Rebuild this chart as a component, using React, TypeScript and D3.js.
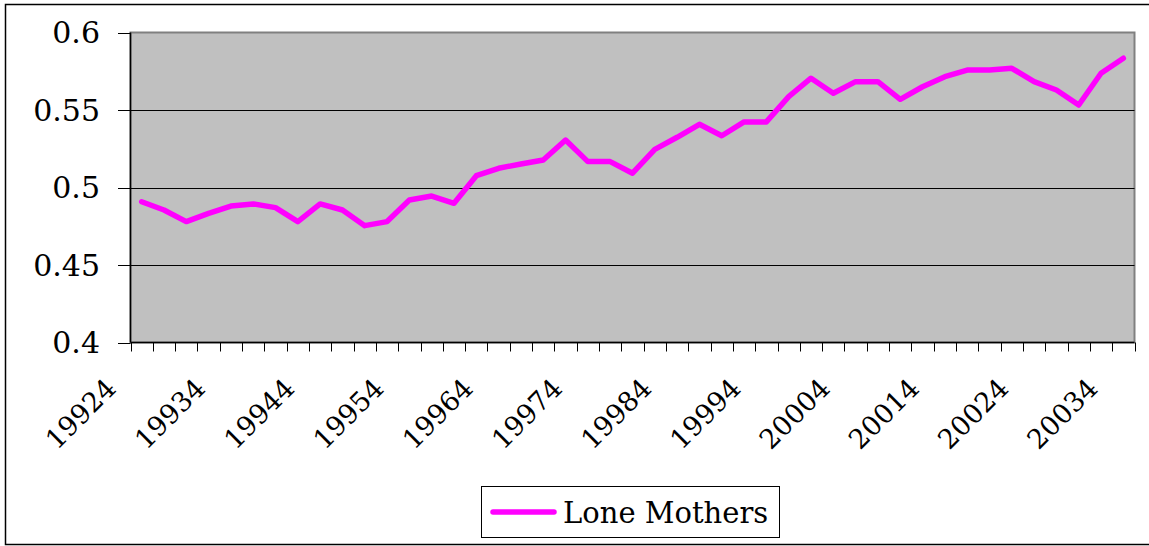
import React from "react";
import * as d3 from "d3";

const categories: string[] = [
  "19924","19931","19932","19933","19934","19941","19942","19943","19944",
  "19951","19952","19953","19954","19961","19962","19963","19964",
  "19971","19972","19973","19974","19981","19982","19983","19984",
  "19991","19992","19993","19994","20001","20002","20003","20004",
  "20011","20012","20013","20014","20021","20022","20023","20024",
  "20031","20032","20033","20034",
];

const loneMothers: number[] = [
  0.4908, 0.4855, 0.478, 0.4833, 0.488, 0.4894, 0.487, 0.478, 0.4894,
  0.4855, 0.4754, 0.478, 0.4919, 0.4945, 0.4898, 0.5076, 0.5124,
  0.5152, 0.5177, 0.5306, 0.5167, 0.5167, 0.5092, 0.5246, 0.5324,
  0.5408, 0.5334, 0.5423, 0.5423, 0.5586, 0.5705, 0.5608, 0.5683,
  0.5683, 0.5569, 0.565, 0.5715, 0.5758, 0.5758, 0.5769, 0.5683,
  0.5629, 0.5532, 0.5737, 0.5834,
];

const yTicks: number[] = [0.4, 0.45, 0.5, 0.55, 0.6];
const yTickLabels: string[] = ["0.4", "0.45", "0.5", "0.55", "0.6"];
const labelEvery = 4;
const seriesName = "Lone Mothers";

const W = 1149;
const H = 546;
const plot = { left: 130.5, right: 1134.5, top: 32.5, bottom: 342.5 };
const FONT = "'DejaVu Serif', serif";
const textStyle = { fontFamily: FONT };

export default function App() {
  const x = d3
    .scaleBand<string>()
    .domain(categories)
    .range([plot.left, plot.right])
    .paddingInner(0)
    .paddingOuter(0);
  const y = d3.scaleLinear().domain([0.4, 0.6]).range([plot.bottom, plot.top]);
  const cx = (c: string) => (x(c) as number) + x.bandwidth() / 2;

  const line = d3
    .line<number>()
    .x((_, i) => cx(categories[i]))
    .y((d) => y(d));

  const tickXs = categories.map((c) => x(c) as number).concat([plot.right]);

  return (
    <svg
      width={W}
      height={H}
      style={{ position: "absolute", left: 0, top: 0, background: "#fff" }}
    >
      <rect x={5.5} y={4.5} width={1160} height={540} fill="#fff" stroke="#000" strokeWidth={1.5} />
      <rect
        x={plot.left}
        y={plot.top}
        width={plot.right - plot.left}
        height={plot.bottom - plot.top}
        fill="#C0C0C0"
        stroke="#808080"
        strokeWidth={2}
      />
      {yTicks.slice(1, -1).map((t) => (
        <line
          key={"g" + t}
          x1={plot.left}
          x2={plot.right}
          y1={Math.round(y(t)) + 0.5}
          y2={Math.round(y(t)) + 0.5}
          stroke="#000"
          strokeWidth={1}
        />
      ))}
      <line x1={plot.left} x2={plot.left} y1={plot.top} y2={plot.bottom} stroke="#000" strokeWidth={1.5} />
      <line x1={plot.left} x2={plot.right} y1={plot.bottom} y2={plot.bottom} stroke="#000" strokeWidth={1.5} />
      {yTicks.map((t, i) => (
        <g key={"yt" + t}>
          <line x1={118} x2={plot.left} y1={Math.round(y(t)) + 0.5} y2={Math.round(y(t)) + 0.5} stroke="#000" />
          <text
            x={100}
            y={y(t)}
            dy="0.35em"
            textAnchor="end"
            fontSize={30}
            fill="#000"
            style={textStyle}
          >
            {yTickLabels[i]}
          </text>
        </g>
      ))}
      {tickXs.map((tx, i) => (
        <line
          key={"xt" + i}
          x1={Math.round(tx) + 0.5}
          x2={Math.round(tx) + 0.5}
          y1={plot.bottom}
          y2={plot.bottom + 9}
          stroke="#000"
        />
      ))}
      {categories.map((c, i) =>
        i % labelEvery === 0 ? (
          <text
            key={"xl" + c}
            transform={`translate(${cx(c) - 24},${390}) rotate(-45)`}
            textAnchor="end"
            fontSize={27}
            fill="#000"
            style={textStyle}
          >
            {c}
          </text>
        ) : null
      )}
      <path
        d={line(loneMothers) || ""}
        fill="none"
        stroke="#FF00FF"
        strokeWidth={5.5}
        strokeLinejoin="round"
        strokeLinecap="round"
      />
      <rect x={481.5} y={486.5} width={298} height={51} fill="#fff" stroke="#000" strokeWidth={1} />
      <line x1={493} x2={554} y1={512} y2={512} stroke="#FF00FF" strokeWidth={5.5} strokeLinecap="round" />
      <text x={563} y={523} fontSize={29} fill="#000" style={textStyle}>
        {seriesName}
      </text>
    </svg>
  );
}
